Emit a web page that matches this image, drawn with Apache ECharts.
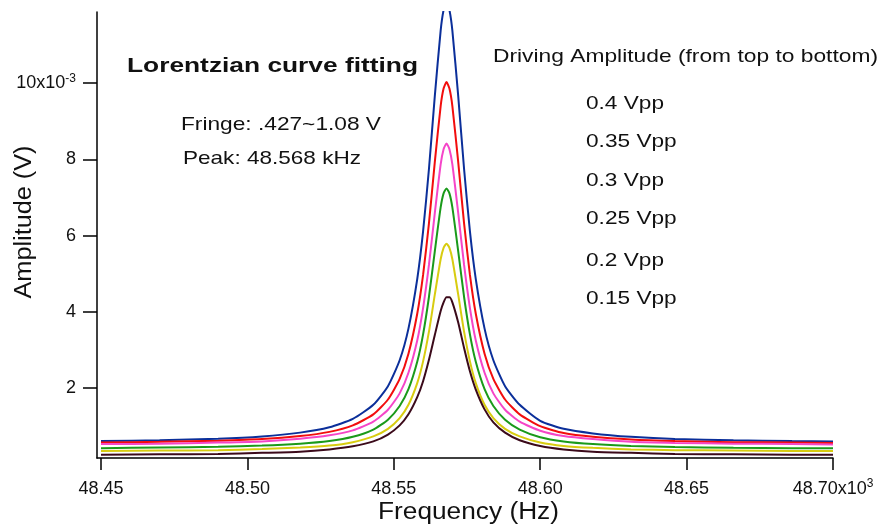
<!DOCTYPE html>
<html><head><meta charset="utf-8">
<script src="https://cdn.jsdelivr.net/npm/echarts@6/dist/echarts.min.js"></script>
<style>html,body{margin:0;padding:0;background:#fff}#c{width:881px;height:529px}</style>
</head><body><div id="c"></div>
<script>
// Frequency in kHz (axis shows x10^3 Hz)
const frequencies = [48.450,48.470,48.490,48.505,48.518,48.528,48.536,48.543,48.548,48.552,48.555,48.558,48.560,48.562,48.564,48.566,48.567,48.568,48.569,48.570,48.572,48.574,48.576,48.578,48.581,48.584,48.588,48.593,48.600,48.608,48.618,48.631,48.646,48.666,48.686,48.700];
// Amplitude in mV (axis shows x10^-3 V)
const amp040 = [0.61,0.63,0.67,0.73,0.83,0.97,1.19,1.56,2.05,2.73,3.56,4.86,6.11,7.75,9.66,11.38,11.92,12.11,11.92,11.38,9.66,7.75,6.11,4.86,3.56,2.73,2.05,1.56,1.14,0.93,0.81,0.72,0.66,0.63,0.61,0.60];
const amp035 = [0.57,0.59,0.62,0.66,0.74,0.85,1.02,1.31,1.70,2.24,2.90,3.95,4.97,6.32,7.93,9.40,9.86,10.03,9.86,9.40,7.93,6.32,4.97,3.95,2.90,2.24,1.70,1.31,1.00,0.82,0.72,0.65,0.61,0.58,0.57,0.56];
const amp030 = [0.53,0.54,0.57,0.60,0.67,0.76,0.89,1.12,1.43,1.86,2.40,3.25,4.10,5.23,6.59,7.87,8.27,8.42,8.27,7.87,6.59,5.23,4.10,3.25,2.40,1.86,1.43,1.12,0.88,0.74,0.66,0.59,0.56,0.54,0.53,0.52];
const amp025 = [0.42,0.44,0.46,0.49,0.54,0.61,0.72,0.91,1.17,1.53,1.97,2.69,3.41,4.39,5.59,6.74,7.11,7.24,7.11,6.74,5.59,4.39,3.41,2.69,1.97,1.53,1.17,0.91,0.71,0.60,0.53,0.48,0.45,0.43,0.42,0.42];
const amp020 = [0.35,0.36,0.37,0.40,0.44,0.49,0.58,0.73,0.93,1.21,1.56,2.13,2.70,3.48,4.45,5.38,5.68,5.79,5.68,5.38,4.45,3.48,2.70,2.13,1.56,1.21,0.93,0.73,0.57,0.48,0.43,0.39,0.37,0.36,0.35,0.35];
const amp015 = [0.25,0.26,0.27,0.30,0.33,0.39,0.47,0.60,0.78,1.02,1.31,1.76,2.18,2.74,3.39,4.02,4.25,4.38,4.38,4.25,3.72,3.05,2.44,1.96,1.44,1.10,0.83,0.63,0.48,0.39,0.33,0.30,0.27,0.26,0.25,0.25];
const seriesNames = ['0.4 Vpp','0.35 Vpp','0.3 Vpp','0.25 Vpp','0.2 Vpp','0.15 Vpp'];
const xTicks = [48.45,48.50,48.55,48.60,48.65,48.70];
const yTicks = [2,4,6,8,10];
const titleText = 'Lorentzian curve fitting';
const fringeText = 'Fringe: .427~1.08 V';
const peakText = 'Peak: 48.568 kHz';
const legendTitle = 'Driving Amplitude (from top to bottom)';
const xName = 'Frequency (Hz)';
const yName = 'Amplitude (V)';

const FF = '"Liberation Sans", Arial, sans-serif';
const colors = ['#0b2f9a','#f20d0d','#f545c8','#1a9a1a','#d8cc10','#3b0a1a'];
const allAmps = [amp040, amp035, amp030, amp025, amp020, amp015];

const ctx = document.createElement('canvas').getContext('2d');
function fit(text, size, weight, target){
  ctx.font = (weight||'normal') + ' ' + size + 'px ' + FF;
  return target / ctx.measureText(text).width;
}
function txt(text, x, y, size, weight, target, opts){
  opts = opts || {};
  return Object.assign({
    type:'text', x:x, y:y, scaleX: fit(text,size,weight,target), z: 100,
    style:{ text:text, fontSize:size, fontWeight:weight||'normal', fontFamily:FF, fill:'#111',
      align: opts.align||'left', verticalAlign:'middle' }
  }, opts.extra||{});
}

const graphics = [
  txt(titleText, 127, 66, 20, 'bold', 291),
  txt(fringeText, 181, 125, 18.5, 'normal', 200),
  txt(peakText, 183, 159, 18.5, 'normal', 178),
  txt(legendTitle, 493, 57, 18.5, 'normal', 385),
];
const labelYs = [103.5, 141.5, 180.5, 218.5, 260.5, 298.5];
const labelWs = [78, 90.7, 78, 90.7, 78, 90.7];
seriesNames.forEach((n,i)=>graphics.push(txt(n, 586, labelYs[i], 19, 'normal', labelWs[i])));
graphics.push(txt(xName, 468.5, 513, 23, 'normal', 181, {align:'center'}));
graphics.push(Object.assign(txt(yName, 25, 222, 23, 'normal', 153, {align:'center'}), {rotation: Math.PI/2}));

const chart = echarts.init(document.getElementById('c'), null, {renderer:'canvas'});
chart.setOption({
  animation:false,
  backgroundColor:'#fff',
  grid:{left:97, right:48, top:12, bottom:71, containLabel:false},
  xAxis:{
    type:'value', min:48.44863, max:48.70,
    axisLine:{show:true, onZero:false, lineStyle:{color:'#000', width:1.5}},
    axisTick:{show:true, length:12, customValues:xTicks, lineStyle:{color:'#000', width:1.5}},
    axisLabel:{customValues:xTicks, margin:20, color:'#111', fontFamily:FF, fontSize:18,
      formatter:v=>{const s=v.toFixed(2); return Math.abs(v-48.70)<1e-6 ? '{n|'+s+'x10}{s|3}' : '{n|'+s+'}';},
      rich:{n:{fontSize:18, fontFamily:FF, color:'#111', lineHeight:22}, s:{fontSize:12, fontFamily:FF, color:'#111', verticalAlign:'top', lineHeight:12}}},
    splitLine:{show:false}
  },
  yAxis:{
    type:'value', min:0.164, max:11.87,
    axisLine:{show:true, onZero:false, lineStyle:{color:'#000', width:1.5}},
    axisTick:{show:true, length:14, customValues:yTicks, lineStyle:{color:'#000', width:1.5}},
    axisLabel:{customValues:yTicks, margin:21, color:'#111', fontFamily:FF, fontSize:18,
      formatter:v=> v===10 ? '{n|10x10}{s|-3}' : '{n|'+v+'}',
      rich:{n:{fontSize:18, fontFamily:FF, color:'#111', lineHeight:22}, s:{fontSize:12, fontFamily:FF, color:'#111', verticalAlign:'top', lineHeight:12}}},
    splitLine:{show:false}
  },
  graphic: graphics,
  series: seriesNames.map((n,i)=>({
    name:n, type:'line', showSymbol:false, smooth:0.2, clip:true,
    lineStyle:{color:colors[i], width:2}, itemStyle:{color:colors[i]},
    data: frequencies.map((f,j)=>[f, allAmps[i][j]])
  }))
});
</script>
</body></html>
